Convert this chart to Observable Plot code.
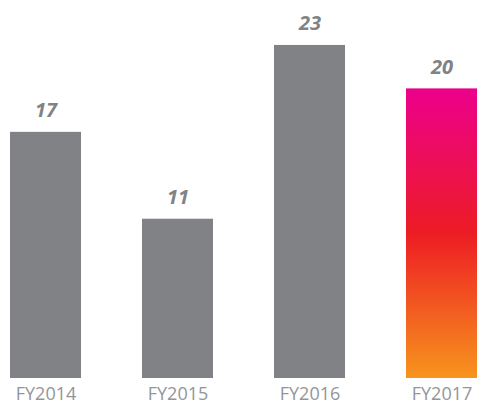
<!DOCTYPE html>
<html>
<head>
<meta charset="utf-8">
<script src="https://cdn.jsdelivr.net/npm/d3@7"></script>
<script src="https://cdn.jsdelivr.net/npm/@observablehq/plot@0.6"></script>
<style>
  html, body { margin: 0; padding: 0; background: #fff; }
  svg { font-family: "Open Sans", sans-serif; }
</style>
</head>
<body>
<div id="chart"></div>
<script>
const categories = ["FY2014", "FY2015", "FY2016", "FY2017"];
const values = [17, 11, 23, 20];
const highlight = ["FY2017"];

const data = categories.map((c, i) => ({category: c, value: values[i]}));

const gradientDef = () => {
  const svgNS = "http://www.w3.org/2000/svg";
  const defs = document.createElementNS(svgNS, "defs");
  defs.innerHTML = `<linearGradient id="fyGrad" x1="0" y1="0" x2="0" y2="1">
      <stop offset="0" stop-color="#ec008c"/>
      <stop offset="0.5" stop-color="#ed1c24"/>
      <stop offset="1" stop-color="#f7941d"/>
    </linearGradient>`;
  return defs;
};

const chart = Plot.plot({
  width: 479,
  height: 405,
  marginLeft: 10,
  marginRight: 1,
  marginTop: 16,
  marginBottom: 27,
  x: {domain: categories, paddingInner: 0.462, paddingOuter: 0, label: null},
  y: {domain: [0, 25], axis: null},
  marks: [
    gradientDef,
    Plot.barY(data, {
      x: "category",
      y: "value",
      fill: d => highlight.includes(d.category) ? "url(#fyGrad)" : "#808285"
    }),
    Plot.text(data, {
      x: "category",
      y: "value",
      text: d => String(d.value),
      lineAnchor: "bottom",
      dy: -15,
      fontSize: 20,
      fontWeight: "bold",
      fontStyle: "italic",
      fill: "#808285"
    }),
    Plot.axisX({
      tickSize: 0,
      tickPadding: 9,
      fontSize: 18,
      color: "#939598",
      label: null
    })
  ]
});
document.getElementById("chart").appendChild(chart);
</script>
</body>
</html>
